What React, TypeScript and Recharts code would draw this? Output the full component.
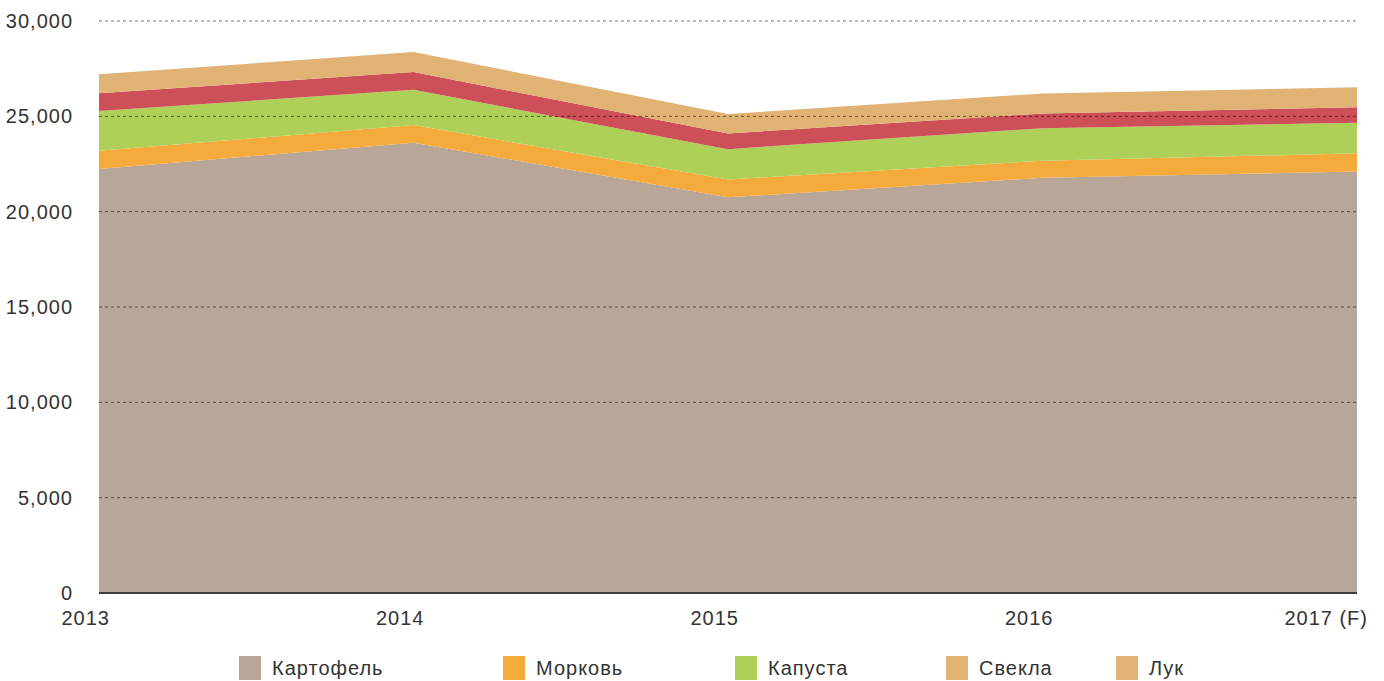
import React from 'react';
import { AreaChart, Area, XAxis, YAxis, ReferenceLine } from 'recharts';

// years along the x axis
const years = ['2013', '2014', '2015', '2016', '2017 (F)'];

// stacked series, thousand tonnes
const potato = [22240, 23620, 20750, 21780, 22110];
const carrot = [950, 920, 940, 890, 950];
const cabbage = [2090, 1850, 1590, 1710, 1600];
const beet = [930, 930, 820, 770, 810];
const onion = [1000, 1050, 1020, 1050, 1050];

const yTicks = [0, 5000, 10000, 15000, 20000, 25000, 30000];

const seriesKeys = ['potato', 'carrot', 'cabbage', 'beet', 'onion'];
const seriesNames = ['Картофель', 'Морковь', 'Капуста', 'Свекла', 'Лук'];
const areaColors = ['#b8a699', '#f5aa3c', '#aecf58', '#cd4f58', '#e0b274'];
// the legend in the original shows the beet swatch in tan
const legendColors = ['#b8a699', '#f5aa3c', '#aecf58', '#e0b274', '#e0b274'];
const legendLeft = [239, 503, 735, 946, 1116];

const data = years.map((year, i) => ({
  year,
  potato: potato[i],
  carrot: carrot[i],
  cabbage: cabbage[i],
  beet: beet[i],
  onion: onion[i],
}));

const FONT = '"Liberation Sans", Arial, sans-serif';

const YTick = (props: any) => {
  const { y, payload } = props;
  return (
    <text x={73} y={y} textAnchor="end" dominantBaseline="central" fill="#333" fontSize={20} letterSpacing={1} fontFamily={FONT}>
      {payload.value.toLocaleString('en-US')}
    </text>
  );
};

const XTick = (props: any) => {
  const { x, y, payload } = props;
  return (
    <text x={x + 11} y={y + 24} textAnchor="end" fill="#333" fontSize={20} letterSpacing={1} fontFamily={FONT}>
      {payload.value}
    </text>
  );
};

export default function App() {
  return (
    <div style={{ position: 'relative', width: 1384, height: 681, background: '#fff' }}>
      <style>{`body{margin:0}`}</style>
      <AreaChart
        width={1384}
        height={640}
        data={data}
        margin={{ top: 21, right: 27, bottom: 0, left: 0 }}
      >
        <XAxis
          dataKey="year"
          tick={<XTick />}
          tickLine={false}
          axisLine={false}
          height={47}
          interval={0}
        />
        <YAxis
          domain={[0, 30000]}
          ticks={yTicks}
          tick={<YTick />}
          tickLine={false}
          axisLine={false}
          width={99}
        />
        {seriesKeys.map((k, i) => (
          <Area
            key={k}
            type="linear"
            dataKey={k}
            name={seriesNames[i]}
            stackId="1"
            fill={areaColors[i]}
            fillOpacity={1}
            stroke="none"
            isAnimationActive={false}
          />
        ))}
        {yTicks.slice(1).map((t) => (
          <ReferenceLine key={t} y={t} stroke="rgba(0,0,0,0.55)" strokeDasharray="3 3" strokeWidth={1} />
        ))}
        <ReferenceLine y={0} stroke="#3d3d3d" strokeWidth={2} />
      </AreaChart>
      {seriesNames.map((name, i) => (
        <div
          key={name}
          style={{
            position: 'absolute',
            left: legendLeft[i],
            top: 656,
            display: 'flex',
            alignItems: 'center',
            fontFamily: FONT,
            fontSize: 20,
            letterSpacing: 1,
            color: '#333',
            whiteSpace: 'nowrap',
          }}
        >
          <span style={{ display: 'inline-block', width: 22, height: 24, background: legendColors[i], marginRight: 11 }} />
          <span>{name}</span>
        </div>
      ))}
    </div>
  );
}
